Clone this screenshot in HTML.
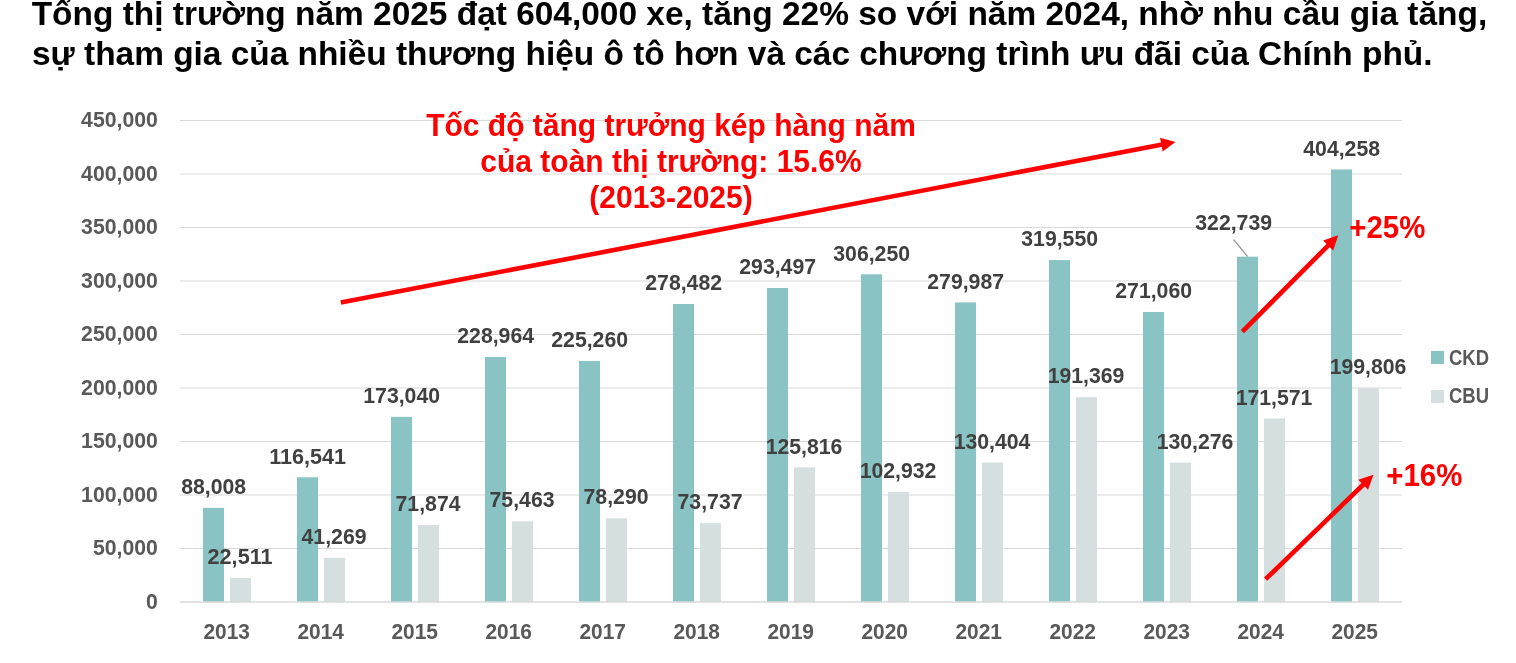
<!DOCTYPE html>
<html lang="vi">
<head>
<meta charset="utf-8">
<title>Tổng thị trường năm 2025</title>
<style>
html,body{margin:0;padding:0;background:#fff;}
body{width:1516px;height:663px;overflow:hidden;position:relative;font-family:"Liberation Sans", sans-serif;}
svg{position:absolute;left:0;top:0;display:block;}
text{font-family:"Liberation Sans", sans-serif;font-weight:bold;}
.ttl{font-size:34.1px;fill:#000;}
.ax{font-size:21.8px;fill:#595959;}
.dl{font-size:21.8px;fill:#404040;}
.red{font-size:30.7px;fill:#ff0000;}
.pct{font-size:31.3px;fill:#ff0000;}
.grid line{stroke:#d9d9d9;stroke-width:1;}
.axis{stroke:#d9d9d9;stroke-width:1.6;}
.ckd{fill:#8ac3c3;}
.cbu{fill:#d6dfe0;}
.arrow line{stroke:#ff0000;stroke-width:4.6;}
.arrow polygon{fill:#ff0000;}
</style>
</head>
<body>
<svg width="1516" height="663" viewBox="0 0 1516 663">
<rect x="0" y="0" width="1516" height="663" fill="#ffffff"/>
<text class="ttl" x="31.7" y="25.0" textLength="1455.5" lengthAdjust="spacingAndGlyphs">Tổng thị trường năm 2025 đạt 604,000 xe, tăng 22% so với năm 2024, nhờ nhu cầu gia tăng,</text>
<text class="ttl" x="32.0" y="65.2" textLength="1400.5" lengthAdjust="spacingAndGlyphs">sự tham gia của nhiều thương hiệu ô tô hơn và các chương trình ưu đãi của Chính phủ.</text>
<g class="grid">
<line x1="180.0" y1="548.50" x2="1402.0" y2="548.50"/>
<line x1="180.0" y1="495.00" x2="1402.0" y2="495.00"/>
<line x1="180.0" y1="441.50" x2="1402.0" y2="441.50"/>
<line x1="180.0" y1="388.00" x2="1402.0" y2="388.00"/>
<line x1="180.0" y1="334.50" x2="1402.0" y2="334.50"/>
<line x1="180.0" y1="281.00" x2="1402.0" y2="281.00"/>
<line x1="180.0" y1="227.50" x2="1402.0" y2="227.50"/>
<line x1="180.0" y1="174.00" x2="1402.0" y2="174.00"/>
<line x1="180.0" y1="120.50" x2="1402.0" y2="120.50"/>
</g>
<g class="ax" text-anchor="end">
<text x="157.9" y="609" textLength="11.8" lengthAdjust="spacingAndGlyphs">0</text>
<text x="157.9" y="555" textLength="65.0" lengthAdjust="spacingAndGlyphs">50,000</text>
<text x="157.9" y="502" textLength="76.8" lengthAdjust="spacingAndGlyphs">100,000</text>
<text x="157.9" y="448" textLength="76.8" lengthAdjust="spacingAndGlyphs">150,000</text>
<text x="157.9" y="395" textLength="76.8" lengthAdjust="spacingAndGlyphs">200,000</text>
<text x="157.9" y="341" textLength="76.8" lengthAdjust="spacingAndGlyphs">250,000</text>
<text x="157.9" y="288" textLength="76.8" lengthAdjust="spacingAndGlyphs">300,000</text>
<text x="157.9" y="234" textLength="76.8" lengthAdjust="spacingAndGlyphs">350,000</text>
<text x="157.9" y="181" textLength="76.8" lengthAdjust="spacingAndGlyphs">400,000</text>
<text x="157.9" y="127" textLength="76.8" lengthAdjust="spacingAndGlyphs">450,000</text>
</g>
<g class="ckd">
<rect x="203.00" y="507.83" width="21.0" height="94.17"/>
<rect x="297.00" y="477.30" width="21.0" height="124.70"/>
<rect x="391.00" y="416.85" width="21.0" height="185.15"/>
<rect x="485.00" y="357.01" width="21.0" height="244.99"/>
<rect x="579.00" y="360.97" width="21.0" height="241.03"/>
<rect x="673.00" y="304.02" width="21.0" height="297.98"/>
<rect x="767.00" y="287.96" width="21.0" height="314.04"/>
<rect x="861.00" y="274.31" width="21.0" height="327.69"/>
<rect x="955.00" y="302.41" width="21.0" height="299.59"/>
<rect x="1049.00" y="260.08" width="21.0" height="341.92"/>
<rect x="1143.00" y="311.97" width="21.0" height="290.03"/>
<rect x="1237.00" y="256.67" width="21.0" height="345.33"/>
<rect x="1331.00" y="169.44" width="21.0" height="432.56"/>
</g>
<g class="cbu">
<rect x="230.00" y="577.91" width="21.0" height="24.09"/>
<rect x="324.00" y="557.84" width="21.0" height="44.16"/>
<rect x="418.00" y="525.09" width="21.0" height="76.91"/>
<rect x="512.00" y="521.25" width="21.0" height="80.75"/>
<rect x="606.00" y="518.23" width="21.0" height="83.77"/>
<rect x="700.00" y="523.10" width="21.0" height="78.90"/>
<rect x="794.00" y="467.38" width="21.0" height="134.62"/>
<rect x="888.00" y="491.86" width="21.0" height="110.14"/>
<rect x="982.00" y="462.47" width="21.0" height="139.53"/>
<rect x="1076.00" y="397.24" width="21.0" height="204.76"/>
<rect x="1170.00" y="462.60" width="21.0" height="139.40"/>
<rect x="1264.00" y="418.42" width="21.0" height="183.58"/>
<rect x="1358.00" y="388.21" width="21.0" height="213.79"/>
</g>
<line class="axis" x1="180.0" y1="602.00" x2="1402.0" y2="602.00"/>
<g class="ax" text-anchor="middle">
<text x="226.70" y="639" textLength="46.5" lengthAdjust="spacingAndGlyphs">2013</text>
<text x="320.70" y="639" textLength="46.5" lengthAdjust="spacingAndGlyphs">2014</text>
<text x="414.70" y="639" textLength="46.5" lengthAdjust="spacingAndGlyphs">2015</text>
<text x="508.70" y="639" textLength="46.5" lengthAdjust="spacingAndGlyphs">2016</text>
<text x="602.70" y="639" textLength="46.5" lengthAdjust="spacingAndGlyphs">2017</text>
<text x="696.70" y="639" textLength="46.5" lengthAdjust="spacingAndGlyphs">2018</text>
<text x="790.70" y="639" textLength="46.5" lengthAdjust="spacingAndGlyphs">2019</text>
<text x="884.70" y="639" textLength="46.5" lengthAdjust="spacingAndGlyphs">2020</text>
<text x="978.70" y="639" textLength="46.5" lengthAdjust="spacingAndGlyphs">2021</text>
<text x="1072.70" y="639" textLength="46.5" lengthAdjust="spacingAndGlyphs">2022</text>
<text x="1166.70" y="639" textLength="46.5" lengthAdjust="spacingAndGlyphs">2023</text>
<text x="1260.70" y="639" textLength="46.5" lengthAdjust="spacingAndGlyphs">2024</text>
<text x="1354.70" y="639" textLength="46.5" lengthAdjust="spacingAndGlyphs">2025</text>
</g>
<g class="dl" text-anchor="middle">
<text x="213.65" y="494" textLength="65.0" lengthAdjust="spacingAndGlyphs">88,008</text>
<text x="307.65" y="464" textLength="76.8" lengthAdjust="spacingAndGlyphs">116,541</text>
<text x="401.65" y="403" textLength="76.8" lengthAdjust="spacingAndGlyphs">173,040</text>
<text x="495.65" y="343" textLength="76.8" lengthAdjust="spacingAndGlyphs">228,964</text>
<text x="589.65" y="347" textLength="76.8" lengthAdjust="spacingAndGlyphs">225,260</text>
<text x="683.65" y="290" textLength="76.8" lengthAdjust="spacingAndGlyphs">278,482</text>
<text x="777.65" y="274" textLength="76.8" lengthAdjust="spacingAndGlyphs">293,497</text>
<text x="871.65" y="261" textLength="76.8" lengthAdjust="spacingAndGlyphs">306,250</text>
<text x="965.65" y="289" textLength="76.8" lengthAdjust="spacingAndGlyphs">279,987</text>
<text x="1059.65" y="246" textLength="76.8" lengthAdjust="spacingAndGlyphs">319,550</text>
<text x="1153.65" y="298" textLength="76.8" lengthAdjust="spacingAndGlyphs">271,060</text>
<text x="1233.65" y="230" textLength="76.8" lengthAdjust="spacingAndGlyphs">322,739</text>
<text x="1341.65" y="156" textLength="76.8" lengthAdjust="spacingAndGlyphs">404,258</text>
<text x="240.05" y="564" textLength="65.0" lengthAdjust="spacingAndGlyphs">22,511</text>
<text x="334.05" y="544" textLength="65.0" lengthAdjust="spacingAndGlyphs">41,269</text>
<text x="428.05" y="511" textLength="65.0" lengthAdjust="spacingAndGlyphs">71,874</text>
<text x="522.05" y="507" textLength="65.0" lengthAdjust="spacingAndGlyphs">75,463</text>
<text x="616.05" y="504" textLength="65.0" lengthAdjust="spacingAndGlyphs">78,290</text>
<text x="710.05" y="509" textLength="65.0" lengthAdjust="spacingAndGlyphs">73,737</text>
<text x="804.05" y="454" textLength="76.8" lengthAdjust="spacingAndGlyphs">125,816</text>
<text x="898.05" y="478" textLength="76.8" lengthAdjust="spacingAndGlyphs">102,932</text>
<text x="992.05" y="449" textLength="76.8" lengthAdjust="spacingAndGlyphs">130,404</text>
<text x="1086.05" y="383" textLength="76.8" lengthAdjust="spacingAndGlyphs">191,369</text>
<text x="1195.05" y="449" textLength="76.8" lengthAdjust="spacingAndGlyphs">130,276</text>
<text x="1274.05" y="405" textLength="76.8" lengthAdjust="spacingAndGlyphs">171,571</text>
<text x="1368.05" y="374" textLength="76.8" lengthAdjust="spacingAndGlyphs">199,806</text>
</g>
<line x1="1233.5" y1="239.5" x2="1247.5" y2="256.5" stroke="#9a9a9a" stroke-width="1.3"/>
<rect class="ckd" x="1431" y="351" width="13" height="13"/>
<rect class="cbu" x="1431" y="390" width="13" height="13"/>
<g class="ax">
<text x="1449" y="364.5" textLength="40" lengthAdjust="spacingAndGlyphs">CKD</text>
<text x="1449" y="403" textLength="40" lengthAdjust="spacingAndGlyphs">CBU</text>
</g>
<g class="red" text-anchor="middle">
<text x="671" y="136" textLength="489.7" lengthAdjust="spacingAndGlyphs">Tốc độ tăng trưởng kép hàng năm</text>
<text x="671" y="172.2" textLength="381.4" lengthAdjust="spacingAndGlyphs">của toàn thị trường: 15.6%</text>
<text x="671" y="208.4" textLength="163.4" lengthAdjust="spacingAndGlyphs">(2013-2025)</text>
</g>
<g class="pct">
<text x="1349.3" y="238.3" textLength="76" lengthAdjust="spacingAndGlyphs">+25%</text>
<text x="1386.3" y="486.2" textLength="76" lengthAdjust="spacingAndGlyphs">+16%</text>
</g>
<g class="arrow">
<line x1="340.80" y1="302.60" x2="1162.34" y2="144.43"/>
<polygon points="1175.50,141.90 1162.68,151.50 1160.04,137.75"/>
<line x1="1242.40" y1="331.60" x2="1328.84" y2="244.79"/>
<polygon points="1338.30,235.30 1333.10,250.44 1323.18,240.56"/>
<line x1="1265.60" y1="579.20" x2="1363.87" y2="484.02"/>
<polygon points="1373.50,474.70 1368.03,489.75 1358.29,479.69"/>
</g>
</svg>
</body>
</html>
